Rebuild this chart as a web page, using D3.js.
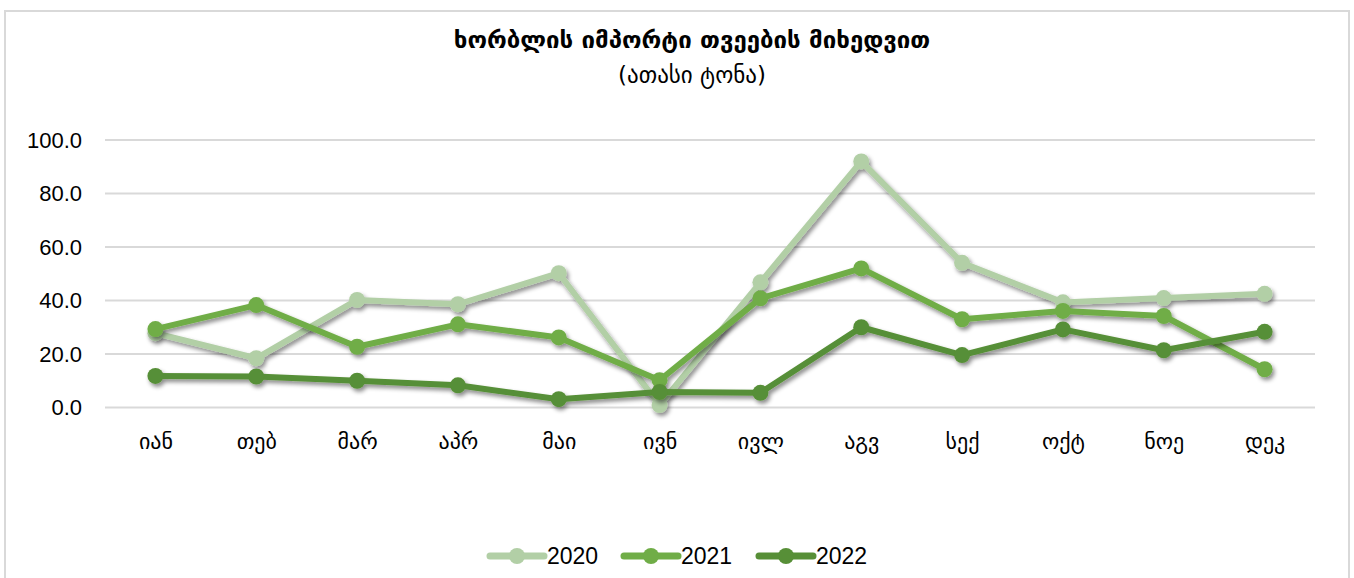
<!DOCTYPE html>
<html>
<head>
<meta charset="utf-8">
<script src="https://cdn.jsdelivr.net/npm/d3@7"></script>
<style>
  body { margin: 0; background: #fff; }
  svg { display: block; }
</style>
</head>
<body>
<svg id="chart"></svg>
<script>
// data
var months = ["იან", "თებ", "მარ", "აპრ", "მაი", "ივნ", "ივლ", "აგვ", "სექ", "ოქტ", "ნოე", "დეკ"];
var years = ["2020", "2021", "2022"];
var v2020 = [27.8, 18.4, 40.2, 38.6, 50.2, 0.9, 46.8, 92.0, 54.1, 39.3, 40.9, 42.5];
var v2021 = [29.3, 38.3, 22.7, 31.1, 26.2, 10.2, 40.8, 52.0, 33.0, 36.1, 34.2, 14.3];
var v2022 = [11.8, 11.6, 10.0, 8.3, 3.1, 5.8, 5.5, 30.0, 19.6, 29.2, 21.4, 28.3];
var yTicks = [0, 20, 40, 60, 80, 100];

var colors = ["#b2cfa6", "#70ad47", "#578f37"];
var series = [v2020, v2021, v2022];

var W = 1354, H = 578;
var margin = {top: 140, right: 39, bottom: 170, left: 105},
    width = W - margin.left - margin.right,
    height = 407.5 - margin.top;

var svg = d3.select("#chart").attr("width", W).attr("height", H);

// drop shadow like the office chart
var defs = svg.append("defs");
var f = defs.append("filter").attr("id", "shadow")
    .attr("x", "-10%").attr("y", "-10%").attr("width", "120%").attr("height", "130%");
f.append("feDropShadow").attr("dx", 2).attr("dy", 3).attr("stdDeviation", 2)
    .attr("flood-color", "#000").attr("flood-opacity", 0.45);

// outer frame
svg.append("rect")
    .attr("x", 5).attr("y", 11).attr("width", 1344).attr("height", 580)
    .attr("fill", "none").attr("stroke", "#d9d9d9").attr("stroke-width", 2);

// title
svg.append("text")
    .attr("x", 692).attr("y", 48)
    .attr("text-anchor", "middle")
    .style("font-family", "DejaVu Sans")
    .style("font-weight", "bold")
    .style("font-size", "24px")
    .text("ხორბლის იმპორტი თვეების მიხედვით");
svg.append("text")
    .attr("x", 692).attr("y", 83)
    .attr("text-anchor", "middle")
    .style("font-family", "DejaVu Sans")
    .style("font-size", "23px")
    .text("(ათასი ტონა)");

var g = svg.append("g")
    .attr("transform", "translate(" + margin.left + "," + margin.top + ")");

var x = d3.scalePoint().domain(months).range([0, width]).padding(0.5);
var y = d3.scaleLinear().domain([0, 100]).range([height, 0]);

// gridlines
g.append("g")
  .selectAll("line")
  .data(yTicks)
  .enter().append("line")
    .attr("x1", 0).attr("x2", width)
    .attr("y1", function(d) { return y(d); })
    .attr("y2", function(d) { return y(d); })
    .attr("stroke", "#d9d9d9").attr("stroke-width", 2);

// y axis labels
var yAxis = g.append("g")
    .call(d3.axisLeft(y).tickValues(yTicks).tickSize(0).tickPadding(23)
      .tickFormat(d3.format(".1f")));
yAxis.select(".domain").remove();
yAxis.selectAll("text")
    .style("font-family", "Liberation Sans, Arial, sans-serif")
    .style("font-size", "22px")
    .attr("fill", "#000");

// x axis labels
var xAxis = g.append("g")
    .attr("transform", "translate(0," + height + ")")
    .call(d3.axisBottom(x).tickSize(0).tickPadding(26));
xAxis.select(".domain").remove();
xAxis.selectAll("text")
    .style("font-family", "DejaVu Sans")
    .style("font-size", "22px")
    .attr("fill", "#000");

var line = d3.line()
    .x(function(d, i) { return x(months[i]); })
    .y(function(d) { return y(d); });

// lines + markers
series.forEach(function(vals, s) {
  var sg = g.append("g").attr("filter", "url(#shadow)");
  sg.append("path")
      .datum(vals)
      .attr("d", line)
      .attr("fill", "none")
      .attr("stroke", colors[s])
      .attr("stroke-width", 6)
      .attr("stroke-linejoin", "round")
      .attr("stroke-linecap", "round");
  sg.selectAll("circle")
      .data(vals)
    .enter().append("circle")
      .attr("cx", function(d, i) { return x(months[i]); })
      .attr("cy", function(d) { return y(d); })
      .attr("r", 8)
      .attr("fill", colors[s]);
});

// legend
var legendX = [488, 622, 757];
var leg = svg.append("g").attr("transform", "translate(0,556)");
years.forEach(function(yr, i) {
  var lg = leg.append("g").attr("transform", "translate(" + legendX[i] + ",0)");
  lg.append("line")
      .attr("x1", 2).attr("x2", 56).attr("y1", 0).attr("y2", 0)
      .attr("stroke", colors[i]).attr("stroke-width", 7)
      .attr("stroke-linecap", "round");
  lg.append("circle").attr("cx", 29).attr("cy", 0).attr("r", 8).attr("fill", colors[i]);
  lg.append("text")
      .attr("x", 59).attr("y", 8)
      .style("font-family", "Liberation Sans, Arial, sans-serif")
      .style("font-size", "23px")
      .text(yr);
});
</script>
</body>
</html>
